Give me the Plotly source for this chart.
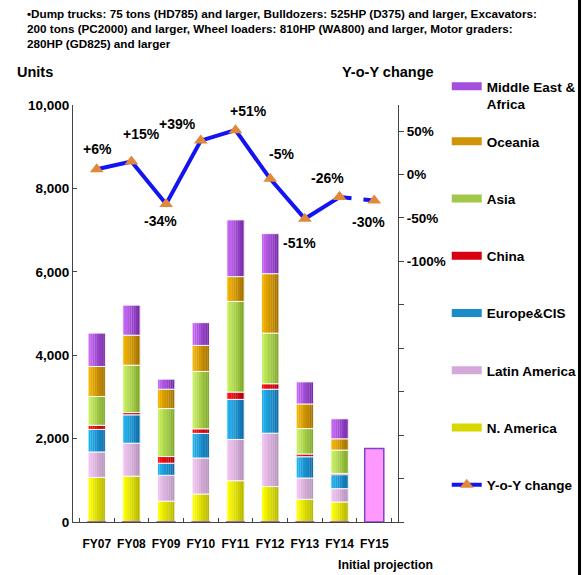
import numpy as np
import plotly.graph_objects as go

years = ["FY07", "FY08", "FY09", "FY10", "FY11", "FY12", "FY13", "FY14", "FY15"]

n_america = [1070, 1100, 500, 670, 990, 850, 545, 480, 0]
latin_america = [610, 790, 620, 865, 990, 1280, 510, 320, 0]
europe_cis = [540, 680, 290, 590, 960, 1055, 510, 335, 0]
china = [100, 55, 160, 110, 175, 130, 65, 30, 0]
asia = [690, 1135, 1150, 1375, 2175, 1215, 610, 560, 0]
oceania = [720, 720, 465, 625, 595, 1425, 590, 270, 0]
mea = [800, 720, 240, 545, 1360, 960, 530, 480, 0]
projection = [0, 0, 0, 0, 0, 0, 0, 0, 1760]

yoy = [6, 15, -34, 39, 51, -5, -51, -26, -30]
yoy_labels = ["+6%", "+15%", "-34%", "+39%", "+51%", "-5%", "-51%", "-26%", "-30%"]

FONT = "Liberation Sans, Arial, sans-serif"

# name, values, light colour, dark colour, legend colour, rank, legend id
series = [
    ("N. America", n_america, (255, 255, 0), (185, 185, 0), "#d8d800", 7, "legend"),
    ("Latin America", latin_america, (242, 196, 242), (185, 150, 190), "#d4a8d8", 6, "legend"),
    ("Europe&CIS", europe_cis, (35, 180, 240), (16, 110, 170), "#1a8cc8", 5, "legend"),
    ("China", china, (255, 20, 20), (180, 0, 16), "#d80010", 4, "legend"),
    ("Asia", asia, (200, 240, 96), (130, 170, 45), "#a0c848", 3, "legend"),
    ("Oceania", oceania, (245, 180, 0), (165, 115, 0), "#d09408", 2, "legend"),
    ("Middle East &<br>Africa", mea, (200, 104, 248), (120, 45, 170), "#a450dc", 1, "legend2"),
]

NSTRIP = 8
BAR_W = 0.5

fig = go.Figure()
base = np.zeros(len(years))
for name, vals, light, dark, legcol, rank, lg in series:
    v = np.array(vals, dtype=float)
    for k in range(NSTRIP):
        t = k / (NSTRIP - 1)
        c = tuple(int(round(light[i] + (dark[i] - light[i]) * t)) for i in range(3))
        fig.add_trace(go.Bar(
            x=years, y=v, base=base.copy(), width=BAR_W / NSTRIP + 0.004,
            offset=-BAR_W / 2 + k * BAR_W / NSTRIP,
            marker=dict(color="rgb(%d,%d,%d)" % c, line=dict(width=0)),
            showlegend=False, hoverinfo="skip",
        ))
    # thin separators between segments
    fig.add_trace(go.Bar(
        x=years, y=v, base=base.copy(), width=BAR_W,
        marker=dict(color="rgba(0,0,0,0)", line=dict(color="rgba(255,255,255,0.9)", width=1)),
        showlegend=False, name=name,
    ))
    # legend entry (wide swatch)
    fig.add_trace(go.Scatter(
        x=[None], y=[None], name=name, mode="lines", line=dict(color=legcol, width=8),
        legendgroup=name, legendrank=rank, legend=lg,
    ))
    base = base + v

fig.add_trace(go.Bar(
    x=years, y=projection, base=0, name="Initial projection", showlegend=False,
    marker=dict(color="#ff99ff", line=dict(color="#8040d0", width=1.5)), width=0.55,
))

fig.add_trace(go.Scatter(
    x=years[7:], y=yoy[7:], yaxis="y2", mode="lines+markers", showlegend=False,
    line=dict(color="#1414f0", width=4, dash="dash"),
    marker=dict(symbol="triangle-up", size=12, color="#e0883c"),
))
fig.add_trace(go.Scatter(
    x=years[:8], y=yoy[:8], yaxis="y2", mode="lines+markers", name="Y-o-Y change",
    legendgroup="yoy", legendrank=8,
    line=dict(color="#1414f0", width=4),
    marker=dict(symbol="triangle-up", size=12, color="#e0883c"),
))

offsets = [(1, 20), (10, 27), (-6, -17), (-23, 17), (13, 19), (11, 25), (-5, -24), (-12, 19), (-6, -21)]
annotations = []
for xv, yv, lab, (dx, dy) in zip(years, yoy, yoy_labels, offsets):
    annotations.append(dict(
        x=xv, y=yv, xref="x", yref="y2", text=lab, showarrow=False,
        xshift=dx, yshift=dy, font=dict(family=FONT, size=14, color="black", weight="bold"),
    ))

annotations += [
    dict(x=-0.148, y=1.24, xref="paper", yref="paper", xanchor="left", yanchor="top", align="left",
         showarrow=False,
         text="•Dump trucks: 75 tons (HD785) and larger, Bulldozers: 525HP (D375) and larger, Excavators:<br>"
              "200 tons (PC2000) and larger, Wheel loaders: 810HP (WA800) and larger, Motor graders:<br>"
              "280HP (GD825) and larger",
         font=dict(family=FONT, size=11.7, color="black", weight="bold")),
    dict(x=-0.178, y=1.079, xref="paper", yref="paper", xanchor="left", yanchor="middle",
         showarrow=False, text="Units", font=dict(family=FONT, size=14.5, color="black", weight="bold")),
    dict(x=0.822, y=1.079, xref="paper", yref="paper", xanchor="left", yanchor="middle",
         showarrow=False, text="Y-o-Y change", font=dict(family=FONT, size=14.5, color="black", weight="bold")),
    dict(x=0.96, y=-0.103, xref="paper", yref="paper", xanchor="center", yanchor="middle",
         showarrow=False, text="Initial projection", font=dict(family=FONT, size=12.3, color="black", weight="bold")),
]

y2_vals = [50, 0, -50, -100, -150, -200, -250, -300, -350, -400]
y2_text = ["50%", "0%", "-50%", "-100%", "", "", "", "", "", ""]

legend_font = dict(family=FONT, size=13.5, color="black", weight="bold")

fig.update_layout(
    width=584, height=575,
    margin=dict(l=73, r=186, t=105, b=53, autoexpand=False),
    paper_bgcolor="white", plot_bgcolor="white",
    barmode="overlay",
    font=dict(family=FONT, size=13, color="black", weight="bold"),
    xaxis=dict(showline=True, linecolor="#444", linewidth=1, ticks="inside", ticklen=4,
               tickson="boundaries", tickcolor="#444", tickangle=0, ticklabelstandoff=11,
               tickfont=dict(family=FONT, size=12, color="black", weight="bold")),
    yaxis=dict(range=[0, 10000], showgrid=False, showline=True, linecolor="#444", linewidth=1,
               ticks="inside", ticklen=4, tickcolor="#444", tickvals=[0, 2000, 4000, 6000, 8000, 10000],
               tickformat=",d", zeroline=False,
               tickfont=dict(family=FONT, size=13.5, color="black", weight="bold")),
    yaxis2=dict(range=[-400, 80], overlaying="y", side="right", showgrid=False, zeroline=False,
                showline=True, linecolor="#444", linewidth=1, ticks="outside", ticklen=5,
                tickcolor="#444", tickvals=y2_vals, ticktext=y2_text,
                tickfont=dict(family=FONT, size=13.5, color="black", weight="bold")),
    legend=dict(x=1.15, y=0.9496, xanchor="left", yanchor="top", tracegroupgap=36.7, valign="top",
                bgcolor="rgba(0,0,0,0)", traceorder="grouped", maxheight=575,
                font=legend_font),
    legend2=dict(x=1.15, y=1.0815, xanchor="left", yanchor="top", valign="top",
                 bgcolor="rgba(0,0,0,0)", font=legend_font),
    annotations=annotations,
    shapes=[dict(type="line", xref="paper", yref="paper", x0=1.5585, x1=1.5585, y0=1.26, y1=-0.13,
                 line=dict(color="black", width=3))],
)

fig.write_html("out.html")
